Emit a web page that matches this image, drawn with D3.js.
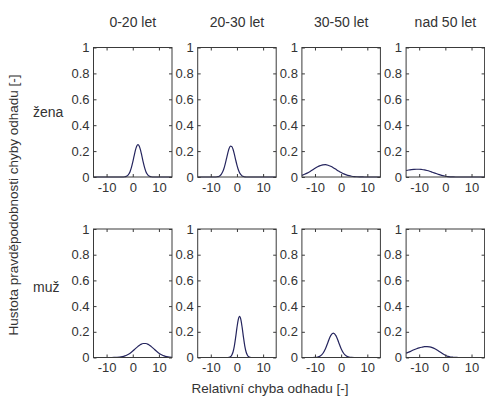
<!DOCTYPE html>
<html>
<head>
<meta charset="utf-8">
<script src="https://cdn.jsdelivr.net/npm/d3@7"></script>
<style>
  html, body { margin: 0; padding: 0; background: #fff; }
  svg { display: block; font-family: "Liberation Sans", Arial, sans-serif; }
</style>
</head>
<body>
<svg id="chart" width="485" height="403"></svg>
<script>
// ---- data ----
const ageGroups = ["0-20 let", "20-30 let", "30-50 let", "nad 50 let"];
const genders = ["žena", "muž"];
const xTicks = [-10, 0, 10];
const yTicks = [0, 0.2, 0.4, 0.6, 0.8, 1];
const yTickLabels = ["0", "0.2", "0.4", "0.6", "0.8", "1"];
const xTickLabels = ["-10", "0", "10"];
const xDomain = [-15, 15];
const yDomain = [0, 1];

// [relative error, density]
const zena_0_20 = [[-15,0],[-4,0],[-3,0.002],[-2.5,0.005],[-2,0.011],[-1.5,0.023],[-1,0.043],[-0.5,0.074],[0,0.114],[0.5,0.161],[1,0.206],[1.5,0.238],[2,0.25],[2.5,0.238],[3,0.206],[3.5,0.161],[4,0.114],[4.5,0.074],[5,0.043],[5.5,0.023],[6,0.011],[6.5,0.005],[7,0.002],[8,0],[15,0]];
const zena_20_30 = [[-15,0],[-8.5,0],[-7.5,0.002],[-7,0.004],[-6.5,0.010],[-6,0.020],[-5.5,0.038],[-5,0.064],[-4.5,0.100],[-4,0.142],[-3.5,0.185],[-3,0.220],[-2.5,0.238],[-2,0.236],[-1.5,0.214],[-1,0.177],[-0.5,0.133],[0,0.092],[0.5,0.058],[1,0.033],[1.5,0.018],[2,0.008],[2.5,0.004],[3,0.0015],[4,0],[15,0]];
const zena_30_50 = [[-15,0.013],[-14,0.021],[-13,0.030],[-12,0.041],[-11,0.054],[-10,0.067],[-9,0.079],[-8,0.088],[-7,0.094],[-6,0.095],[-5,0.091],[-4,0.083],[-3,0.072],[-2,0.059],[-1,0.046],[0,0.034],[1,0.024],[2,0.016],[3,0.010],[4,0.006],[5,0.0035],[6,0.002],[7,0.001],[8,0.0004],[9,0],[15,0]];
const zena_nad_50 = [[-15,0.050],[-14,0.054],[-13,0.057],[-12,0.059],[-11,0.060],[-10,0.060],[-9,0.058],[-8,0.055],[-7,0.050],[-6,0.044],[-5,0.037],[-4,0.030],[-3,0.023],[-2,0.016],[-1,0.010],[0,0.006],[1,0.003],[2,0.0015],[3,0.0005],[4,0],[15,0]];
const muz_0_20 = [[-15,0],[-8,0],[-7,0.0006],[-6,0.0016],[-5,0.0034],[-4,0.0068],[-3,0.0127],[-2,0.022],[-1,0.034],[0,0.050],[1,0.069],[2,0.0865],[3,0.101],[4,0.109],[5,0.109],[6,0.101],[7,0.0865],[8,0.069],[9,0.050],[10,0.034],[11,0.022],[12,0.0127],[13,0.0068],[14,0.0034],[15,0.0016]];
const muz_20_30 = [[-15,0],[-4,0],[-3,0.002],[-2.5,0.006],[-2,0.018],[-1.5,0.043],[-1,0.089],[-0.5,0.156],[0,0.232],[0.5,0.295],[1,0.32],[1.5,0.295],[2,0.232],[2.5,0.156],[3,0.089],[3.5,0.043],[4,0.018],[4.5,0.006],[5,0.002],[6,0],[15,0]];
const muz_30_50 = [[-15,0],[-11,0],[-10,0.0007],[-9,0.003],[-8,0.011],[-7,0.031],[-6,0.068],[-5,0.121],[-4,0.170],[-3,0.19],[-2,0.170],[-1,0.121],[0,0.068],[1,0.031],[2,0.011],[3,0.003],[4,0.0007],[5,0],[15,0]];
const muz_nad_50 = [[-15,0.034],[-14,0.042],[-13,0.051],[-12,0.060],[-11,0.068],[-10,0.075],[-9,0.080],[-8,0.084],[-7,0.085],[-6,0.083],[-5,0.077],[-4,0.068],[-3,0.056],[-2,0.043],[-1,0.030],[0,0.018],[1,0.009],[2,0.004],[3,0.002],[4,0.001],[5,0],[15,0]];

const seriesGrid = [
  [zena_0_20, zena_20_30, zena_30_50, zena_nad_50],
  [muz_0_20, muz_20_30, muz_30_50, muz_nad_50]
];

// ---- layout ----
const svg = d3.select("#chart");
const panelLeft0 = 93.5, panelStep = 104.2, panelW = 78.5;
const rowTop = [47.5, 229], rowH = [129.5, 128.5];
const textColor = "#333", axisColor = "#3a3a3a", lineColor = "#25255e";
const tickFont = "13px", labelFont = "13.5px";

seriesGrid.forEach((row, r) => {
  row.forEach((data, c) => {
    const left = panelLeft0 + c * panelStep;
    const top = rowTop[r];
    const x = d3.scaleLinear().domain(xDomain).range([0, panelW]);
    const y = d3.scaleLinear().domain(yDomain).range([rowH[r], 0]);
    const g = svg.append("g").attr("transform", `translate(${left},${top})`);

    // curve
    const line = d3.line().x(d => x(d[0])).y(d => y(d[1])).curve(d3.curveMonotoneX);
    g.append("path").datum(data).attr("d", line)
      .attr("fill", "none").attr("stroke", lineColor).attr("stroke-width", 1.2);

    // axes with inward ticks
    const styleAxis = (sel, showText) => {
      sel.select(".domain").remove();
      sel.selectAll(".tick line").attr("stroke", axisColor);
      sel.selectAll(".tick text").attr("fill", textColor)
        .style("font-size", tickFont).style("font-family", "Liberation Sans, Arial, sans-serif");
      if (!showText) sel.selectAll(".tick text").remove();
    };
    g.append("g").attr("transform", `translate(0,${rowH[r]})`)
      .call(d3.axisBottom(x).tickValues(xTicks).tickFormat((d, i) => xTickLabels[i]).tickSizeInner(-3).tickSizeOuter(0).tickPadding(5.5))
      .call(s => styleAxis(s, true));
    g.append("g")
      .call(d3.axisTop(x).tickValues(xTicks).tickSizeInner(-3).tickSizeOuter(0))
      .call(s => styleAxis(s, false));
    g.append("g")
      .call(d3.axisLeft(y).tickValues(yTicks).tickFormat((d, i) => yTickLabels[i]).tickSizeInner(-3).tickSizeOuter(0).tickPadding(4))
      .call(s => styleAxis(s, true));
    g.append("g").attr("transform", `translate(${panelW},0)`)
      .call(d3.axisRight(y).tickValues(yTicks).tickSizeInner(-3).tickSizeOuter(0))
      .call(s => styleAxis(s, false));

    // frame
    g.append("rect").attr("x", 0).attr("y", 0).attr("width", panelW).attr("height", rowH[r])
      .attr("fill", "none").attr("stroke", axisColor).attr("stroke-width", 1);

    // column titles
    if (r === 0) {
      g.append("text").attr("x", panelW / 2).attr("y", -21)
        .attr("text-anchor", "middle").attr("fill", textColor).style("font-size", "14px")
        .text(ageGroups[c]);
    }
    // row labels
    if (c === 0) {
      g.append("text").attr("x", 33 - left).attr("y", y(r === 0 ? 0.5 : 0.55))
        .attr("dy", "0.35em").attr("fill", textColor).style("font-size", "14px")
        .text(genders[r]);
    }
  });
});

// global axis labels
svg.append("text").attr("x", 270).attr("y", 393)
  .attr("text-anchor", "middle").attr("fill", textColor).style("font-size", labelFont)
  .text("Relativní chyba odhadu [-]");
svg.append("text").attr("transform", "translate(13.5,205) rotate(-90)")
  .attr("text-anchor", "middle").attr("dy", "0.35em").attr("fill", textColor).style("font-size", labelFont)
  .text("Hustota pravděpodobnosti chyby odhadu [-]");
</script>
</body>
</html>
